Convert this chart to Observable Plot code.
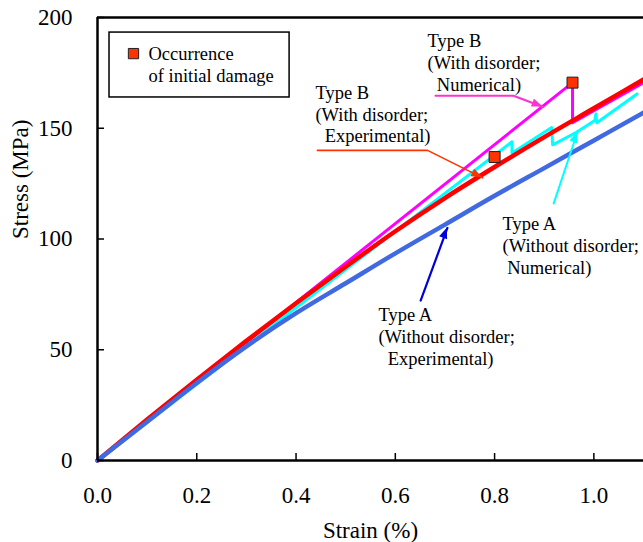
<!DOCTYPE html>
<html><head><meta charset="utf-8">
<script src="https://cdn.jsdelivr.net/npm/d3@7"></script>
<script src="https://cdn.jsdelivr.net/npm/@observablehq/plot@0.6"></script>
<style>
html,body{margin:0;padding:0;background:#fff;}
#chart svg, #chart svg text, #chart svg tspan { font-family: "Liberation Serif", "Times New Roman", Tinos, "DejaVu Serif", "Noto Serif", serif !important; }
</style>
</head><body><div id="chart"></div>
<script>
// ---- data ----
const strainExp = [0, 0.1, 0.2, 0.3, 0.4, 0.5, 0.6, 0.7, 0.8, 0.9, 1.0, 1.1];
const stressTypeBExp = [0, 18.5, 36.5, 54, 71, 87.5, 103.5, 118.5, 132.5, 146, 159, 172];
const stressTypeAExp = [0, 17.5, 35, 51.5, 66.5, 80, 93.5, 106.5, 119.5, 132, 144.5, 157];
const strainTypeBNum = [0, 0.957, 0.957, 1.1];
const stressTypeBNum = [0, 170.6, 152.5, 170.5];
const strainTypeANum = [0, 0.835, 0.835, 0.915, 0.917, 0.965, 1.002, 1.004, 1.006, 1.087];
const stressTypeANum = [0, 143.9, 138.8, 150.3, 142.5, 148.2, 153.5, 156.5, 152.5, 165.5];
const damageStrain = [0.8, 0.957];
const damageStress = [137, 170.6];
const xTicks = [0, 0.2, 0.4, 0.6, 0.8, 1.0];
const yTicks = [0, 50, 100, 150, 200];
const xLabel = "Strain (%)";
const yLabel = "Stress (MPa)";
const legendText = "Occurrence\nof initial damage";
const annotationTexts = [
  "Type B\n(With disorder;\n\u00a0\u00a0Numerical)",
  "Type B\n(With disorder;\n\u00a0\u00a0Experimental)",
  "Type A\n(Without disorder;\n\u00a0Numerical)",
  "Type A\n(Without disorder;\n\u00a0\u00a0Experimental)"
];

// ---- annotation placement (data space) ----
const annotationAt = [[0.665, 167.0], [0.439, 143.6], [0.816, 84.4], [0.566, 43.3]];
const leaders = [
  {id: "bn", color: "#ff33cc", w: 2, pts: [[0.681, 164.7], [0.838, 164.7], [0.898, 159.6]]},
  {id: "be", color: "#ff3300", w: 1.6, pts: [[0.443, 140.0], [0.665, 140.0], [0.776, 127.6]]},
  {id: "an", color: "#00ffff", w: 2, pts: [[0.919, 116.0], [0.967, 148.3]]},
  {id: "ae", color: "#0000dd", w: 2.2, pts: [[0.651, 72.2], [0.705, 105.0]]}
];
const legendBox = {x1: 0.0242, x2: 0.387, y1: 163.9, y2: 193.2};
const legendMarker = {x: 0.0725, y: 183.7};
const legendTextAt = {x: 0.1027, y: 170.7};

// ---- build tables ----
const toRows = (xs, ys) => xs.map((x, i) => ({strain: x, stress: ys[i]}));
const bExp = toRows(strainExp, stressTypeBExp);
const aExp = toRows(strainExp, stressTypeAExp);
const bNum = toRows(strainTypeBNum, stressTypeBNum);
const aNum = toRows(strainTypeANum, stressTypeANum);
const damage = toRows(damageStrain, damageStress);
const annotations = annotationTexts.map((t, i) => ({text: t, x: annotationAt[i][0], y: annotationAt[i][1]}));
const leaderRows = leaders.flatMap(l => l.pts.map(p => ({id: l.id, color: l.color, w: l.w, x: p[0], y: p[1]})));

const FONT = "\"Liberation Serif\", \"Times New Roman\", Tinos, \"DejaVu Serif\", \"Noto Serif\", serif";
const fs = 18.5;

function arrowHeads(list) {
  return function (index, scales) {
    const ns = "http://www.w3.org/2000/svg";
    const g = document.createElementNS(ns, "g");
    for (const l of list) {
      const n = l.pts.length;
      const [ax, ay] = l.pts[n - 2], [bx, by] = l.pts[n - 1];
      const x1 = scales.x(ax), y1 = scales.y(ay), x2 = scales.x(bx), y2 = scales.y(by);
      const a = Math.atan2(y2 - y1, x2 - x1);
      const L = 11, W = 4.2;
      const bxp = x2 - L * Math.cos(a), byp = y2 - L * Math.sin(a);
      const p = document.createElementNS(ns, "polygon");
      p.setAttribute("points", `${x2},${y2} ${bxp + W * Math.sin(a)},${byp - W * Math.cos(a)} ${bxp - W * Math.sin(a)},${byp + W * Math.cos(a)}`);
      p.setAttribute("fill", l.color);
      g.appendChild(p);
    }
    return g;
  };
}

const chart = Plot.plot({
  width: 643,
  height: 542,
  marginTop: 17,
  marginBottom: 82,
  marginLeft: 97,
  marginRight: 0,
  x: {domain: [0, 1.1]},
  y: {domain: [0, 200]},
  style: {fontFamily: FONT, background: "#fff", color: "#000", overflow: "visible"},
  marks: [
    Plot.axisX({ticks: xTicks, tickSize: -7, tickPadding: 33, tickFormat: d => d.toFixed(1), fontSize: 23, label: null, strokeWidth: 1.5, fontFamily: FONT}),
    Plot.axisY({ticks: yTicks, tickSize: -7, tickPadding: 32, fontSize: 23, label: null, strokeWidth: 1.5, fontFamily: FONT}),
    Plot.text([xLabel], {frameAnchor: "bottom", dy: 77, lineAnchor: "bottom", fontSize: 23, fontFamily: FONT}),
    Plot.text([yLabel], {frameAnchor: "left", dx: -77, dy: 0, rotate: -90, lineAnchor: "middle", fontSize: 23, fontFamily: FONT}),
    // legend box
    Plot.rect([legendBox], {x1: "x1", x2: "x2", y1: "y1", y2: "y2", fill: "white", stroke: "black", strokeWidth: 1.5}),
    Plot.dot([legendMarker], {x: "x", y: "y", symbol: "square", r: 5.8, fill: "#ff3300", stroke: "#222", strokeWidth: 1}),
    Plot.text([legendTextAt], {x: "x", y: "y", text: () => legendText, textAnchor: "start", lineAnchor: "bottom", lineHeight: 1.2, fontSize: fs, fontFamily: FONT}),
    // curves
    Plot.line(bNum, {x: "strain", y: "stress", stroke: "#ff00ff", strokeWidth: 3}),
    Plot.line(aNum, {x: "strain", y: "stress", stroke: "#00ffff", strokeWidth: 3}),
    Plot.line(bExp, {x: "strain", y: "stress", stroke: "#ff0000", strokeWidth: 4.5, curve: "monotone-x"}),
    Plot.line(aExp, {x: "strain", y: "stress", stroke: "#4169e1", strokeWidth: 4.5, curve: "monotone-x"}),
    Plot.dot(damage, {x: "strain", y: "stress", symbol: "square", r: 6.2, fill: "#ff3300", stroke: "#222", strokeWidth: 1}),
    // frame
    Plot.ruleY([0, 200], {strokeWidth: 2.5}),
    Plot.ruleX([0], {strokeWidth: 2.5}),
    // annotations
    Plot.line(leaderRows, {x: "x", y: "y", z: "id", stroke: "color", strokeWidth: "w"}),
    arrowHeads(leaders),
    Plot.text(annotations, {x: "x", y: "y", text: "text", textAnchor: "start", lineAnchor: "bottom", lineHeight: 1.17, fontSize: fs, fontFamily: FONT})
  ]
});
document.getElementById("chart").appendChild(chart);
</script>
</body></html>
